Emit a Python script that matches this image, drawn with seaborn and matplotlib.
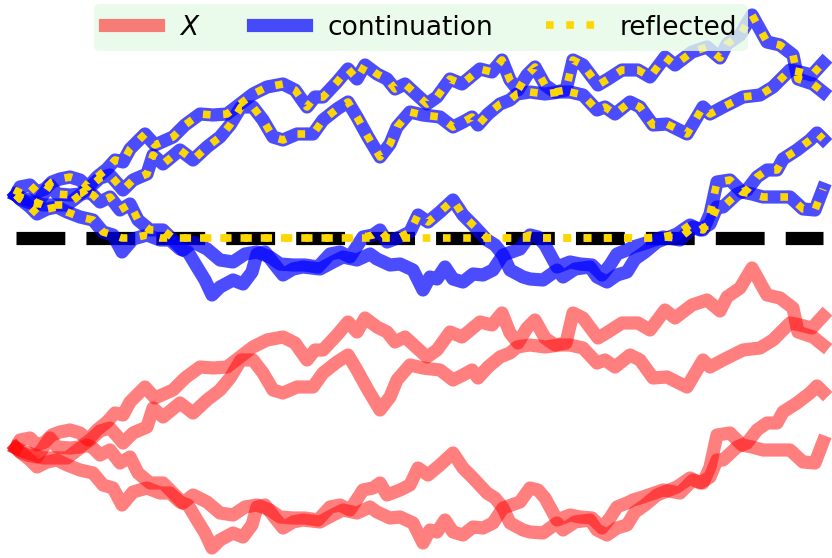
import numpy as np
import matplotlib
matplotlib.use("Agg")
import matplotlib.pyplot as plt
import seaborn as sns

# four random walks: time step and level (0 = common start)
time_ua = [0, 4, 14, 21, 29, 36, 44, 54, 64, 72, 81, 91, 99, 107, 114, 129, 139, 157, 169, 184,
           197, 211, 224, 237, 251, 267, 279, 291, 299, 307, 321, 332, 341, 349, 361, 371, 379, 389, 401, 411,
           421, 434, 446, 464, 476, 486, 494, 502, 511, 519, 529, 539, 550, 557, 567, 582, 592, 606, 622, 634,
           649, 659, 676, 691, 704, 711, 724, 736, 751, 764, 777, 782, 797, 807]
level_ua = [0, 8, 10, 3, 6, 13, 16, 18, 15, 8, 18, 26, 35, 33, 46, 61, 50, 58, 70, 81,
            80, 81, 91, 101, 108, 111, 105, 88, 98, 98, 113, 126, 116, 130, 121, 116, 106, 111, 100, 91,
            98, 116, 111, 126, 123, 135, 115, 105, 120, 128, 110, 103, 105, 135, 130, 110, 116, 125, 125, 118,
            138, 130, 143, 148, 137, 151, 160, 180, 153, 150, 140, 116, 111, 103]

time_ub = [0, 4, 11, 21, 27, 34, 41, 54, 64, 74, 84, 94, 102, 107, 117, 131, 137, 147, 164, 177,
           191, 204, 214, 225, 237, 247, 257, 267, 281, 297, 307, 321, 332, 341, 352, 364, 374, 381, 394, 407,
           424, 437, 447, 456, 462, 472, 484, 494, 501, 514, 529, 544, 554, 567, 581, 589, 599, 614, 624, 637,
           651, 671, 687, 694, 707, 727, 744, 757, 774, 784, 796, 807]
level_ub = [0, -4, -7, -9, 0, 10, 1, 0, 1, 8, 17, 20, 11, 5, 15, 21, 40, 31, 45, 35,
            48, 58, 70, 88, 88, 75, 58, 55, 61, 61, 75, 86, 93, 78, 58, 38, 51, 68, 83, 80,
            78, 68, 73, 78, 70, 81, 91, 95, 101, 103, 101, 103, 103, 100, 85, 88, 81, 93, 88, 70,
            71, 61, 88, 81, 88, 98, 100, 108, 125, 123, 120, 132]

time_la = [0, 4, 14, 21, 31, 41, 51, 64, 77, 87, 97, 106, 117, 131, 144, 154, 164, 172, 181, 189,
           196, 204, 217, 227, 236, 241, 249, 259, 267, 277, 287, 304, 317, 327, 341, 354, 361, 374, 384, 397,
           407, 414, 421, 429, 437, 447, 457, 467, 477, 487, 504, 514, 522, 529, 541, 554, 564, 576, 586, 594,
           601, 611, 617, 627, 647, 664, 677, 687, 694, 701, 714, 726, 736, 747, 761, 774, 787, 799, 807]
level_la = [0, -4, -12, -19, -14, -12, -17, -22, -25, -37, -40, -57, -44, -40, -45, -45, -54, -57, -72, -85,
            -100, -92, -85, -89, -77, -59, -57, -70, -80, -74, -72, -74, -67, -62, -65, -59, -64, -70, -69, -75,
            -95, -82, -84, -72, -84, -87, -79, -80, -75, -60, -54, -40, -42, -50, -72, -67, -69, -70, -80, -70,
            -59, -55, -52, -49, -42, -45, -32, -35, -19, 13, 15, 3, 1, -2, -2, -2, -14, -15, 6]

time_lb = [0, 9, 19, 27, 39, 51, 64, 71, 77, 84, 94, 104, 114, 122, 134, 147, 157, 167, 177, 191,
           204, 217, 229, 241, 254, 264, 277, 289, 302, 314, 324, 334, 347, 357, 364, 371, 384, 394, 402, 412,
           424, 437, 447, 457, 471, 479, 487, 494, 507, 514, 527, 541, 547, 559, 574, 581, 591, 601, 611, 619,
           629, 641, 661, 674, 684, 694, 701, 707, 721, 731, 741, 751, 761, 767, 781, 794, 801, 807]
level_lb = [0, -4, -7, -10, -10, -10, 0, 3, 0, -7, -2, -15, -9, -25, -35, -35, -45, -55, -47, -54,
            -65, -67, -59, -57, -62, -69, -70, -70, -72, -59, -57, -62, -42, -40, -35, -47, -42, -37, -20, -27,
            -17, -5, -20, -30, -45, -50, -60, -75, -82, -84, -85, -75, -82, -74, -72, -82, -87, -80, -77, -64,
            -57, -47, -39, -30, -35, -29, -12, -12, 1, 5, 18, 25, 25, 36, 45, 55, 62, 56]

x_shift = 253   # X is drawn this far below its continuation
barrier = -43

walks = [(time_ua, level_ua), (time_ub, level_ub), (time_la, level_la), (time_lb, level_lb)]

sns.set_theme(style="white")
plt.rcParams["lines.solid_capstyle"] = "projecting"
plt.rcParams["text.color"] = "black"

fig = plt.figure(figsize=(8.32, 5.58), dpi=100)
ax = fig.add_axes([0, 0, 1, 1])

t_end = max(t[-1] for t, _ in walks)
ax.plot([0, t_end], [barrier, barrier], color="black", ls="--", lw=9.5)

lw = 9.5
for i, (t, lev) in enumerate(walks):
    sns.lineplot(x=t, y=np.array(lev) - x_shift, color="red", alpha=0.5, lw=lw,
                 sort=False, estimator=None, label="$X$" if i == 0 else None, ax=ax)
for i, (t, lev) in enumerate(walks):
    sns.lineplot(x=t, y=lev, color="blue", alpha=0.7, lw=lw,
                 sort=False, estimator=None, label="continuation" if i == 0 else None, ax=ax)
for i, (t, lev) in enumerate(walks):
    sns.lineplot(x=t, y=np.maximum(lev, barrier), color="gold", lw=5.5, linestyle=":",
                 sort=False, estimator=None, label="reflected" if i == 0 else None, ax=ax)

ax.set_xlim(-16, 816)
ax.set_ylim(-363, 195)
ax.set_axis_off()

ax.legend(loc="upper center", bbox_to_anchor=(0.506, 1.0), ncol=3, fontsize=19,
          facecolor=(0.9, 0.98, 0.9), framealpha=0.8, edgecolor="none", borderaxespad=0.15,
          labelcolor="black")

fig.savefig("out.png", dpi=100)
